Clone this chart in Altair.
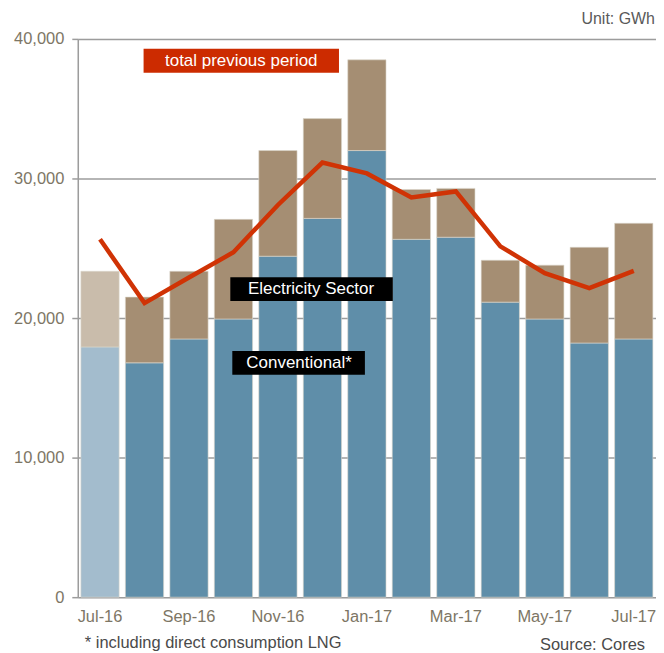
import altair as alt
import pandas as pd

months = ["Jul-16", "Aug-16", "Sep-16", "Oct-16", "Nov-16", "Dec-16", "Jan-17",
          "Feb-17", "Mar-17", "Apr-17", "May-17", "Jun-17", "Jul-17"]
conventional = [17930, 16790, 18500, 19930, 24430, 27140, 32000, 25640, 25790, 21140, 19930, 18210, 18500]
total = [23350, 21500, 23350, 27070, 32000, 34290, 38500, 29210, 29290, 24140, 23790, 25070, 26790]
previous = [25640, 21070, 22900, 24710, 28100, 31140, 30360, 28640, 29070, 25140, 23210, 22140, 23380]
tick_labels = ["Jul-16", "Sep-16", "Nov-16", "Jan-17", "Mar-17", "May-17", "Jul-17"]

df = pd.DataFrame({
    "month": months,
    "conventional": conventional,
    "total": total,
    "previous": previous,
})

FONT = "Liberation Sans"
LABEL = "#7d7665"
GRID = "#9c9c9c"
FS = 16.5

x = alt.X("month:N", sort=months, title=None,
          scale=alt.Scale(paddingInner=0.14, paddingOuter=0.07),
          axis=alt.Axis(values=tick_labels, labelAngle=0, domain=False, ticks=False,
                        labelFont=FONT, labelFontSize=FS, labelColor=LABEL, labelPadding=11))
y_axis = alt.Axis(format=",.0f", values=[0, 10000, 20000, 30000, 40000], grid=True,
                  gridColor=GRID, gridWidth=1.5, domainColor=GRID, domainWidth=1.5,
                  tickColor=GRID, tickSize=6, tickWidth=1.5,
                  labelFont=FONT, labelFontSize=FS, labelColor=LABEL, labelPadding=8)
yscale = alt.Scale(domain=[0, 40000], nice=False)

base = alt.Chart(df)

conv_bars = base.mark_bar(stroke="#dcd6cc", strokeWidth=0.6).encode(
    x=x,
    y=alt.Y("conventional:Q", title=None, scale=yscale, axis=y_axis),
    y2=alt.Y2(datum=0),
    color=alt.condition(alt.datum.month == "Jul-16", alt.value("#a3bccd"), alt.value("#5f8ea9")),
)
elec_bars = base.mark_bar(stroke="#dcd6cc", strokeWidth=0.6).encode(
    x=x,
    y=alt.Y("total:Q", scale=yscale),
    y2="conventional:Q",
    color=alt.condition(alt.datum.month == "Jul-16", alt.value("#c9bcab"), alt.value("#a58e73")),
)
line = base.mark_line(color="#d03305", strokeWidth=4.5, strokeJoin="miter").encode(
    x=x,
    y=alt.Y("previous:Q", scale=yscale),
)

def box(x1, x2, y1, y2, color):
    return alt.Chart(pd.DataFrame({"a": [0]})).mark_rect(color=color).encode(
        x=alt.value(x1), x2=alt.value(x2), y=alt.value(y1), y2=alt.value(y2))

def label(text, xp, yp, color="white", align="center", size=17):
    return alt.Chart(pd.DataFrame({"t": [text]})).mark_text(
        font=FONT, fontSize=size, color=color, align=align, baseline="middle").encode(
        text="t:N", x=alt.value(xp), y=alt.value(yp))

annotations = [
    box(66, 262, 10, 34, "#cc2b00"), label("total previous period", 164, 22),
    box(153, 316, 239, 263, "#000000"), label("Electricity Sector", 234, 251),
    box(155, 288, 313, 337, "#000000"), label("Conventional*", 222, 325),
    label("Unit: GWh", 579, -20, color="#5a5a5a", align="right", size=16),
    label("* including direct consumption LNG", 7, 606, color="#4a4a4a", align="left", size=16.5),
    label("Source: Cores", 569, 608, color="#4a4a4a", align="right", size=16.5),
]

chart = alt.layer(conv_bars, elec_bars, line, *annotations).properties(
    width=580, height=560,
    padding={"left": 70, "top": 30, "right": 0, "bottom": 55},
    autosize=alt.AutoSizeParams(type="none"),
).configure_view(stroke=None).configure(background="white")

chart.save("out.html", embed_options={"renderer": "svg", "actions": False})
